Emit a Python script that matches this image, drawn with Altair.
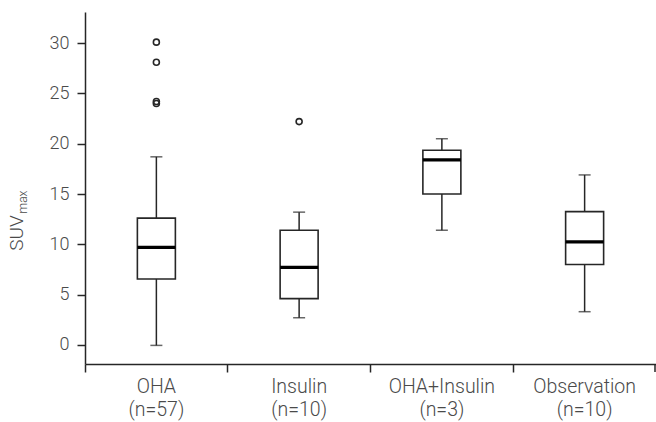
import altair as alt
import pandas as pd

groups = ["OHA", "Insulin", "OHA+Insulin", "Observation"]
n_labels = ["(n=57)", "(n=10)", "(n=3)", "(n=10)"]
whisker_low = [-0.05, 2.7, 11.4, 3.3]
q1 = [6.55, 4.6, 15.0, 8.0]
median = [9.7, 7.7, 18.4, 10.25]
q3 = [12.6, 11.4, 19.35, 13.25]
whisker_high = [18.7, 13.2, 20.5, 16.9]

outlier_group = ["OHA", "OHA", "OHA", "OHA", "Insulin"]
outlier_value = [30.1, 28.1, 24.2, 24.0, 22.2]

box_df = pd.DataFrame({
    "group": groups,
    "low": whisker_low,
    "q1": q1,
    "median": median,
    "q3": q3,
    "high": whisker_high,
})
out_df = pd.DataFrame({"group": outlier_group, "value": outlier_value})

label_expr = " : ".join(
    f"datum.label == '{g}' ? ['{g}', '{n}']" for g, n in zip(groups, n_labels)
) + " : datum.label"

ink = "#262626"
text_color = "#4a4a4a"
font = "Roboto"

x_enc = alt.X(
    "group:N",
    sort=groups,
    scale=alt.Scale(paddingInner=0, paddingOuter=0),
    axis=alt.Axis(
        title=None,
        bandPosition=0,
        labelExpr=label_expr,
        labelAngle=0,
        labelFont=font,
        labelFontWeight=300,
        labelFontSize=19.5,
        labelLineHeight=23,
        labelColor=text_color,
        labelPadding=5,
        tickSize=8,
        tickColor=ink,
        tickWidth=1.5,
        domainColor=ink,
        domainWidth=1.5,
        grid=False,
    ),
)

y_scale = alt.Scale(domain=[-1.9, 33.1], nice=False, zero=False)
y_axis = alt.Axis(
    title=None,
    values=[0, 5, 10, 15, 20, 25, 30],
    labelFont=font,
    labelFontWeight=300,
    labelFontSize=18,
    labelColor=text_color,
    labelPadding=8,
    tickSize=8,
    tickColor=ink,
    tickWidth=1.5,
    domainColor=ink,
    domainWidth=1.5,
    grid=False,
)

base = alt.Chart(box_df)

whisker = base.mark_rule(color=ink, strokeWidth=1.5).encode(
    x=x_enc,
    y=alt.Y("low:Q", scale=y_scale, axis=y_axis),
    y2="high:Q",
)
caps_low = base.mark_tick(color=ink, size=12, thickness=1.5).encode(
    x=x_enc, y=alt.Y("low:Q", scale=y_scale)
)
caps_high = base.mark_tick(color=ink, size=12, thickness=1.5).encode(
    x=x_enc, y=alt.Y("high:Q", scale=y_scale)
)
box = base.mark_bar(size=38, fill="white", stroke=ink, strokeWidth=1.6).encode(
    x=x_enc, y=alt.Y("q1:Q", scale=y_scale), y2="q3:Q"
)
med = base.mark_tick(color="#000000", size=38, thickness=3.2, opacity=1).encode(
    x=x_enc, y=alt.Y("median:Q", scale=y_scale)
)
outliers = alt.Chart(out_df).mark_point(
    filled=False, color=ink, size=36, strokeWidth=1.6, opacity=1
).encode(x=x_enc, y=alt.Y("value:Q", scale=y_scale))

end_tick = alt.Chart(box_df.head(1)).mark_rule(color=ink, strokeWidth=1.5).encode(
    x=alt.value(570), y=alt.value(352), y2=alt.value(360)
)

title_df = pd.DataFrame({"t": ["SUV"], "s": ["max"]})
title_main = alt.Chart(title_df).mark_text(
    angle=270, font=font, fontWeight=300, fontSize=19, color=text_color,
    align="center", baseline="middle",
).encode(text="t:N", x=alt.value(-68), y=alt.value(221))
title_sub = alt.Chart(title_df).mark_text(
    angle=270, font=font, fontWeight=300, fontSize=12, color=text_color,
    align="center", baseline="middle",
).encode(text="s:N", x=alt.value(-62), y=alt.value(190))

chart = alt.layer(
    whisker, caps_low, caps_high, box, med, outliers, end_tick, title_main, title_sub
).properties(
    width=571,
    height=352,
    autosize=alt.AutoSizeParams(type="none"),
    padding={"left": 85, "top": 12, "right": 0, "bottom": 58},
).configure(background="white").configure_view(stroke=None)

chart.save("out.html", embed_options={"renderer": "svg", "actions": False})
